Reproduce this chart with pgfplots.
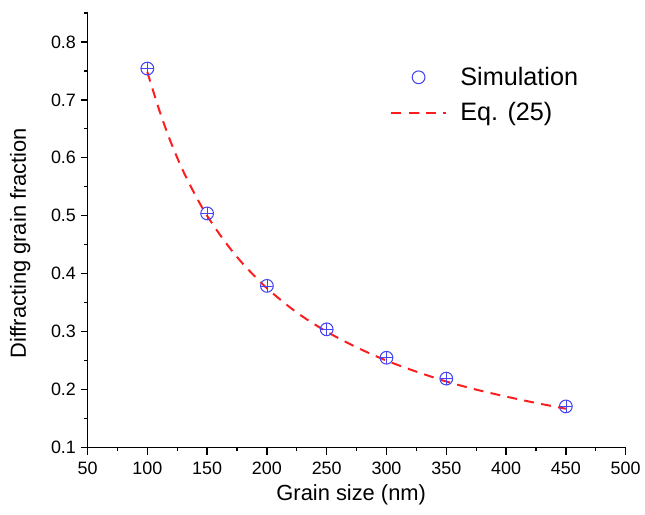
\documentclass[border=0pt]{standalone}
\usepackage{fontspec}
\setmainfont{Liberation Sans}
\usepackage{pgfplots}
\pgfplotsset{compat=1.18}

\definecolor{simblue}{RGB}{70,70,245}
\definecolor{eqred}{RGB}{250,30,30}

\begin{document}
\begin{tikzpicture}
\begin{axis}[
    scale only axis,
    width=405.75pt, height=327.75pt,
    xmin=50, xmax=500, ymin=0.1, ymax=0.85,
    axis x line*=bottom, axis y line*=left,
    axis line style={-, line width=1pt},
    xtick={50,100,...,500},
    minor xtick={75,125,...,475},
    ytick={0.1,0.2,...,0.8},
    minor ytick={0.15,0.25,...,0.85},
    tick align=outside,
    major tick length=5.25pt, minor tick length=2.6pt,
    every tick/.style={black, line width=1pt},
    /pgf/number format/assume math mode=true,
    yticklabel style={/pgf/number format/fixed, /pgf/number format/precision=1, font=\fontsize{13.5}{15}\selectfont},
    xticklabel style={font=\fontsize{13.5}{15}\selectfont, yshift=-2pt},
    xlabel={Grain size (nm)},
    ylabel={Diffracting grain fraction},
    label style={font=\fontsize{16.5}{19}\selectfont},
    xlabel style={at={(rel axis cs:0.49,-0.108)}, anchor=center},
    ylabel style={at={(rel axis cs:-0.125,0.47)}, anchor=center},
    clip=false,
    legend style={draw=none, fill=none, at={(rel axis cs:0.555,0.888)}, anchor=north west,
        font=\fontsize{19}{22}\selectfont, row sep=7.5pt,
        /tikz/every odd column/.append style={column sep=8pt}},
    legend cell align=left,
    legend image code/.code={\draw[mark repeat=2, mark phase=2, #1] plot coordinates {(0cm,0cm) (0.72cm,0cm) (1.45cm,0cm)};},
]
\addplot[only marks, mark=o, mark size=4.8pt, simblue, mark options={line width=0.8pt}] coordinates {
    (100,0.754) (150,0.504) (200,0.379) (250,0.304) (300,0.255) (350,0.219) (450,0.171)
};
\addlegendentry{Simulation}
\addplot[eqred, line width=1.5pt, dash pattern=on 7.5pt off 5.5pt, smooth] coordinates {
    (100,0.748) (110,0.682) (120,0.625) (130,0.577) (140,0.536) (150,0.500)
    (165,0.455) (180,0.417) (200,0.375) (225,0.333) (250,0.300) (275,0.273)
    (300,0.250) (325,0.231) (350,0.214) (375,0.200) (400,0.188) (425,0.177) (450,0.167)
};
\addlegendentry{Eq. (25)}
\addplot[only marks, mark=+, mark size=4.8pt, simblue, mark options={line width=0.5pt}, forget plot] coordinates {
    (100,0.754) (150,0.504) (200,0.379) (250,0.304) (300,0.255) (350,0.219) (450,0.171)
};
\path (rel axis cs:-0.1627,-0.1533) rectangle (rel axis cs:1.0296,1.0297);
\end{axis}
\end{tikzpicture}
\end{document}
